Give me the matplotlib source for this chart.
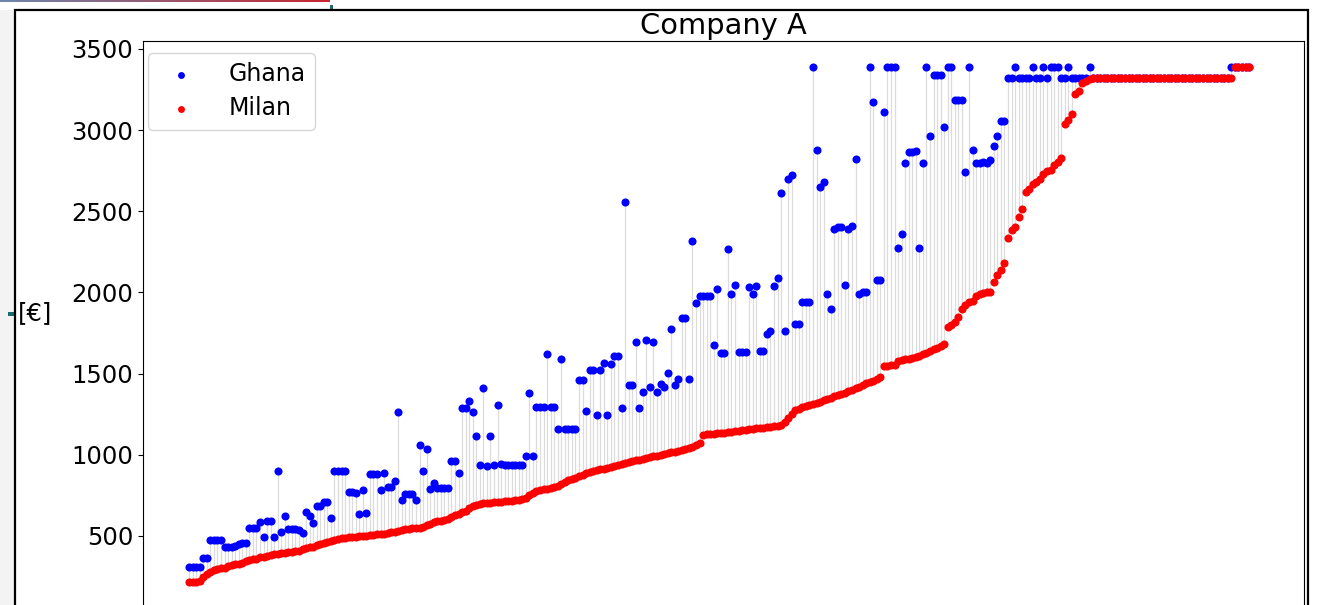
import numpy as np
import matplotlib
matplotlib.use("Agg")
import matplotlib.pyplot as plt
from matplotlib.patches import Rectangle
from matplotlib.colors import LinearSegmentedColormap

# Monthly cost per customer, sorted by the Milan tariff
milan = [
    215, 215, 218, 222, 250, 265, 280, 290, 295, 300,
    305, 318, 322, 327, 330, 335, 345, 350, 355, 360,
    368, 372, 378, 383, 387, 390, 395, 398, 400, 403,
    405, 410, 418, 425, 430, 435, 445, 450, 455, 460,
    470, 478, 483, 488, 490, 492, 494, 496, 498, 500,
    502, 505, 507, 510, 512, 515, 518, 522, 527, 532,
    537, 540, 543, 546, 549, 552, 556, 565, 575, 583,
    590, 595, 600, 605, 615, 628, 638, 645, 655, 670,
    685, 692, 697, 700, 703, 706, 708, 710, 712, 714,
    716, 718, 720, 723, 726, 735, 750, 765, 775, 782,
    788, 792, 796, 800, 805, 820, 835, 845, 852, 860,
    868, 878, 885, 892, 898, 905, 910, 915, 920, 925,
    930, 938, 945, 950, 955, 960, 965, 970, 975, 980,
    985, 990, 995, 1000, 1005, 1010, 1015, 1020, 1025, 1030,
    1035, 1042, 1050, 1060, 1075, 1120, 1125, 1128, 1130, 1132,
    1135, 1137, 1140, 1142, 1145, 1148, 1150, 1155, 1158, 1160,
    1163, 1165, 1168, 1170, 1172, 1175, 1180, 1185, 1200, 1225,
    1250, 1275, 1285, 1295, 1300, 1305, 1310, 1318, 1325, 1335,
    1345, 1352, 1360, 1368, 1375, 1382, 1390, 1400, 1410, 1420,
    1430, 1440, 1448, 1455, 1465, 1480, 1549, 1549, 1550, 1552,
    1580, 1585, 1590, 1593, 1597, 1600, 1610, 1620, 1630, 1640,
    1650, 1660, 1670, 1683, 1790, 1800, 1820, 1848, 1900, 1920,
    1940, 1950, 1980, 1990, 1995, 2000, 2005, 2065, 2110, 2140,
    2180, 2335, 2383, 2403, 2465, 2516, 2619, 2640, 2671, 2681,
    2701, 2732, 2747, 2753, 2784, 2804, 2825, 3035, 3060, 3100,
    3220, 3240, 3290, 3300, 3315, 3320, 3320, 3320, 3320, 3320,
    3320, 3320, 3320, 3320, 3320, 3320, 3320, 3320, 3320, 3320,
    3320, 3320, 3320, 3320, 3320, 3320, 3320, 3320, 3320, 3320,
    3320, 3320, 3320, 3320, 3320, 3320, 3320, 3320, 3320, 3320,
    3320, 3320, 3320, 3320, 3320, 3390, 3390, 3390, 3390, 3390,
]

ghana = [
    310, 310, 310, 310, 362, 362, 473, 473, 473, 473,
    434, 434, 434, 440, 450, 458, 458, 547, 547, 547,
    586, 495, 592, 592, 495, 899, 524, 621, 545, 545,
    540, 535, 520, 648, 623, 582, 685, 685, 712, 712,
    611, 899, 899, 899, 899, 771, 771, 767, 637, 783,
    639, 884, 884, 884, 781, 886, 802, 802, 839, 1261,
    720, 757, 757, 757, 720, 1059, 901, 1034, 787, 829,
    798, 798, 798, 798, 960, 960, 888, 1290, 1290, 1331,
    1261, 1117, 936, 1413, 929, 1117, 936, 1306, 946, 940,
    940, 940, 940, 940, 940, 993, 1382, 993, 1292, 1292,
    1292, 1622, 1292, 1292, 1158, 1591, 1158, 1158, 1158, 1158,
    1461, 1461, 1272, 1525, 1525, 1247, 1523, 1564, 1247, 1560,
    1609, 1609, 1288, 2558, 1432, 1432, 1694, 1288, 1389, 1708,
    1416, 1694, 1389, 1436, 1416, 1502, 1776, 1432, 1467, 1842,
    1842, 1467, 2317, 1934, 1978, 1978, 1978, 1978, 1677, 2022,
    1625, 1625, 2269, 1990, 2043, 1635, 1635, 1635, 2033, 1990,
    2039, 1640, 1640, 1745, 1760, 2039, 2088, 2613, 1765, 2700,
    2722, 1806, 1806, 1940, 1940, 1940, 3390, 2879, 2650, 2680,
    1990, 1895, 2390, 2400, 2405, 2043, 2390, 2410, 2821, 1990,
    2000, 2000, 3390, 3175, 2078, 2078, 3109, 3390, 3390, 3390,
    2274, 2358, 2798, 2862, 2862, 2870, 2274, 2798, 3390, 2963,
    3340, 3340, 3340, 3018, 3390, 3390, 3185, 3185, 3185, 2743,
    3390, 2879, 2800, 2800, 2805, 2800, 2815, 2905, 2963, 3058,
    3058, 3320, 3320, 3390, 3320, 3320, 3320, 3320, 3390, 3320,
    3320, 3390, 3320, 3390, 3390, 3390, 3320, 3320, 3390, 3320,
    3320, 3320, 3320, 3320, 3390, 3320, 3320, 3320, 3320, 3320,
    3320, 3320, 3320, 3320, 3320, 3320, 3320, 3320, 3320, 3320,
    3320, 3320, 3320, 3320, 3320, 3320, 3320, 3320, 3320, 3320,
    3320, 3320, 3320, 3320, 3320, 3320, 3320, 3320, 3320, 3320,
    3320, 3320, 3320, 3320, 3390, 3390, 3390, 3390, 3390, 3390,
]

series_labels = ["Ghana", "Milan"]
title = "Company A"
unit_label = "[€]"
yticks = [500, 1000, 1500, 2000, 2500, 3000, 3500]

W, H = 1320, 605
fig = plt.figure(figsize=(W / 100, H / 100), dpi=100, facecolor="white")


def fx(px):
    return px / W


def fy(py):
    return 1 - py / H


# window chrome around the figure
fig.add_artist(Rectangle((0, 0), fx(14), fy(10), transform=fig.transFigure,
                         facecolor="#f3f3f3", edgecolor="none", zorder=0))
grad_ax = fig.add_axes([0, fy(2.5), fx(330), 2.5 / H])
grad_ax.imshow(np.linspace(0, 1, 256)[None, :], aspect="auto",
               cmap=LinearSegmentedColormap.from_list("bar", ["#6d87ad", "#c8262e"]))
grad_ax.set_axis_off()
fig.add_artist(Rectangle((fx(330), fy(11)), fx(3), 6 / H, transform=fig.transFigure,
                         facecolor="#1f6b6b", edgecolor="none"))
fig.add_artist(Rectangle((fx(8), fy(316)), fx(7), 4 / H, transform=fig.transFigure,
                         facecolor="#1f6b6b", edgecolor="none"))
fig.add_artist(Rectangle((fx(15), fy(700)), fx(1308 - 15), (700 - 10) / H,
                         transform=fig.transFigure, fill=False,
                         edgecolor="black", linewidth=1.6, clip_on=False))

ax_left, ax_right, ax_top, ax_bottom = 143, 1304, 41, 608
ax = fig.add_axes([fx(ax_left), fy(ax_bottom), fx(ax_right - ax_left),
                   (ax_bottom - ax_top) / H])

x = np.arange(len(milan))
lo = np.minimum(milan, ghana)
hi = np.maximum(milan, ghana)
ax.vlines(x, lo, hi, color="#dcdcdc", linewidth=0.9, zorder=1)
ax.scatter(x, ghana, s=34, color="blue", linewidths=0, label=series_labels[0], zorder=2)
ax.scatter(x, milan, s=34, color="red", linewidths=0, label=series_labels[1], zorder=3)

ax.set_xlim(-13, 314.5)
ax.set_yticks(yticks)
ax.tick_params(axis="y", labelsize=17.5)
ax.tick_params(axis="x", labelbottom=False)
ax.set_title(title, fontsize=20.8, pad=5)
ax.set_ylabel(unit_label, fontsize=17.5, rotation=0, ha="center", va="center")
ax.yaxis.set_label_coords((35 - ax_left) / (ax_right - ax_left),
                          (ax_bottom - 313) / (ax_bottom - ax_top))
ax.legend(loc="upper left", fontsize=17, borderaxespad=0,
          bbox_to_anchor=((148 - ax_left) / (ax_right - ax_left),
                          1 - (53 - ax_top) / (ax_bottom - ax_top)),
          labelspacing=0.42, handletextpad=1.0, markerscale=0.85)

fig.savefig("out.png", dpi=100, facecolor="white")
